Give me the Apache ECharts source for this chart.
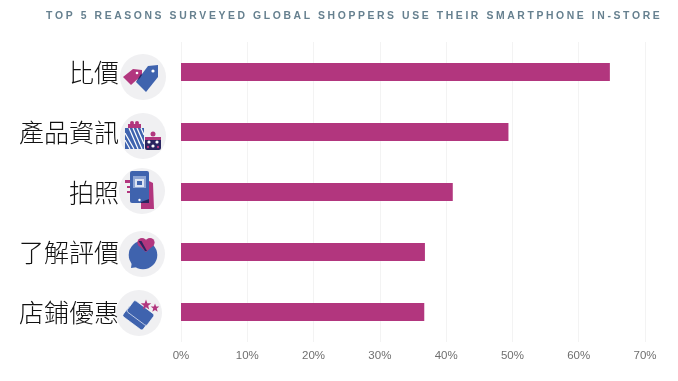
<!DOCTYPE html>
<html>
<head>
<meta charset="utf-8">
<title>Top 5 reasons</title>
<style>
html,body{margin:0;padding:0;background:#fff;}
#chart{width:678px;height:381px;}
</style>
<script src="https://cdn.jsdelivr.net/npm/echarts@6/dist/echarts.min.js"></script>
</head>
<body>
<div id="chart"></div>
<script>
// data
var titleText = 'TOP 5 REASONS SURVEYED GLOBAL SHOPPERS USE THEIR SMARTPHONE IN-STORE';
var categories = ['比價', '產品資訊', '拍照', '了解評價', '店鋪優惠'];
var shares = [64.7, 49.4, 41, 36.8, 36.7];

var BLUE = '#3f63ae', PINK = '#b2367e', DARK = '#2a2560', GRAY = '#f0f0f2';

function poly(points, fill) {
	return {type: 'polygon', shape: {points: points}, style: {fill: fill}};
}
function box(x, y, w, h, fill, r) {
	return {type: 'rect', shape: {x: x, y: y, width: w, height: h, r: r || 0}, style: {fill: fill}};
}
function dot(x, y, r, fill) {
	return {type: 'circle', shape: {cx: x, cy: y, r: r}, style: {fill: fill}};
}
function stroke(x1, y1, x2, y2, color) {
	return {type: 'line', shape: {x1: x1, y1: y1, x2: x2, y2: y2}, style: {stroke: color, lineWidth: 1.2}};
}
function ticket(x, y, w, h, fill) {
	return {type: 'rect', x: x, y: y, rotation: -0.64, shape: {x: -w / 2, y: -h / 2, width: w, height: h, r: 2}, style: {fill: fill, stroke: '#fff', lineWidth: 0.6}};
}
function star(x, y, r) {
	var pts = [];
	for (var i = 0; i < 10; i++) {
		var a = -Math.PI / 2 + i * Math.PI / 5;
		var d = i % 2 ? r * 0.42 : r;
		pts.push([x + d * Math.cos(a), y + d * Math.sin(a)]);
	}
	return poly(pts, PINK);
}

// little pictures next to the labels, drawn around the circle centre
var icons = [
	{dx: 143, dy: 5, r: 23, parts: [
		poly([[-1, -7], [-1, -2], [-12, 8], [-20, 0], [-10, -8]], PINK),
		poly([[15, -12], [15, 0], [3, 15], [-7, 5], [5, -11]], BLUE),
		poly([[-7, 5], [-2, -3], [-1, -2], [-3, 1]], DARK),
		dot(-6, -4, 1.3, '#fff'),
		dot(10, -6, 1.6, '#fff')
	]},
	{dx: 143, dy: 4, r: 23, parts: [
		box(-18, -8, 19, 21, BLUE),
		stroke(-18, -3, -9, 13, '#fff'), stroke(-18, 4, -13, 13, '#fff'),
		stroke(-14, -8, -5, 13, '#fff'), stroke(-10, -8, -1, 13, '#fff'),
		stroke(-6, -8, 1, 8, '#fff'), stroke(-2, -8, 1, -1, '#fff'),
		box(-15, -12, 13, 4, PINK),
		dot(-11, -13, 2, PINK), dot(-6, -13, 2, PINK),
		box(2, 1, 16, 13, DARK, 2),
		box(2, 1, 16, 3, PINK),
		dot(10, -2, 2.5, PINK),
		dot(6, 6, 1.6, '#fff'), dot(14, 6, 1.6, '#fff'), dot(10, 10, 1.6, '#fff'), dot(5, 11, 1.2, PINK), dot(15, 11, 1.2, PINK)
	]},
	{dx: 142, dy: -1, r: 23, parts: [
		box(-17, -11, 6, 3, PINK), box(-15, -5, 4, 2, PINK), box(-15, 0, 4, 2, PINK),
		poly([[7, -10], [11, -8], [12, 18], [-1, 18], [-1, 11], [7, 8]], PINK),
		box(-12, -20, 19, 32, BLUE, 2),
		box(-9, -15, 13, 21, '#8ea5d4'),
		box(-7, -12, 9, 8, '#dde4f2'),
		box(-5, -10, 5, 4, BLUE),
		box(-9, -3, 13, 9, BLUE),
		dot(-2.5, 9, 1.2, '#fff'),
		poly([[-1, 12], [7, 12], [7, 8], [-1, 11]], DARK)
	]},
	{dx: 142, dy: 2, r: 23, parts: [
		dot(1, 1, 14.3, BLUE),
		poly([[-10, 7], [-11, 14], [-4, 13], [-1, 12]], BLUE),
		dot(0, -11.5, 4.6, PINK), dot(8, -11.5, 4.6, PINK),
		poly([[-4, -9], [12, -9], [4, -2]], PINK),
		poly([[-3.5, -13], [-0.5, -13], [5, -3], [3, -3]], DARK)
	]},
	{dx: 139, dy: 1, r: 23, parts: [
		ticket(-3, 5, 25, 13, BLUE),
		ticket(1.5, 0, 25, 14, BLUE),
		star(7, -8, 5.5),
		star(16, -5, 4.5)
	]}
];

var myChart = echarts.init(document.getElementById('chart'));

var opt = {
	animation: false,
	backgroundColor: '#fff',
	title: {
		text: titleText.split('').join('\u200a\u200a\u200a'),
		left: 41,
		top: 6,
		textStyle: {color: '#66808f', fontSize: 10.4, fontWeight: 'bold', fontFamily: 'Liberation Sans'}
	},
	grid: {left: 181, right: 33, top: 42, bottom: 39},
	xAxis: {
		type: 'value',
		min: 0,
		max: 70,
		interval: 10,
		axisLine: {show: false},
		axisTick: {show: false},
		axisLabel: {formatter: '{value}%', color: '#6f6f6f', fontSize: 11.5, margin: 8, fontFamily: 'Liberation Sans'},
		splitLine: {lineStyle: {color: '#f3f3f3', width: 1}}
	},
	yAxis: {
		type: 'category',
		inverse: true,
		data: categories,
		axisLine: {show: false},
		axisTick: {show: false},
		axisLabel: {color: '#111', fontSize: 25, margin: 62, fontFamily: 'Noto Sans CJK TC', fontWeight: 300}
	},
	series: [{
		type: 'bar',
		data: shares,
		barWidth: 18,
		itemStyle: {color: PINK}
	}]
};
myChart.setOption(opt);

// icons follow the category positions of the y axis
myChart.setOption({
	graphic: icons.map(function (icon, i) {
		var cy = myChart.convertToPixel({yAxisIndex: 0}, categories[i]) + icon.dy;
		return {
			type: 'group',
			x: icon.dx,
			y: cy,
			children: [dot(0, 0, icon.r, GRAY)].concat(icon.parts)
		};
	})
});
</script>
</body>
</html>
